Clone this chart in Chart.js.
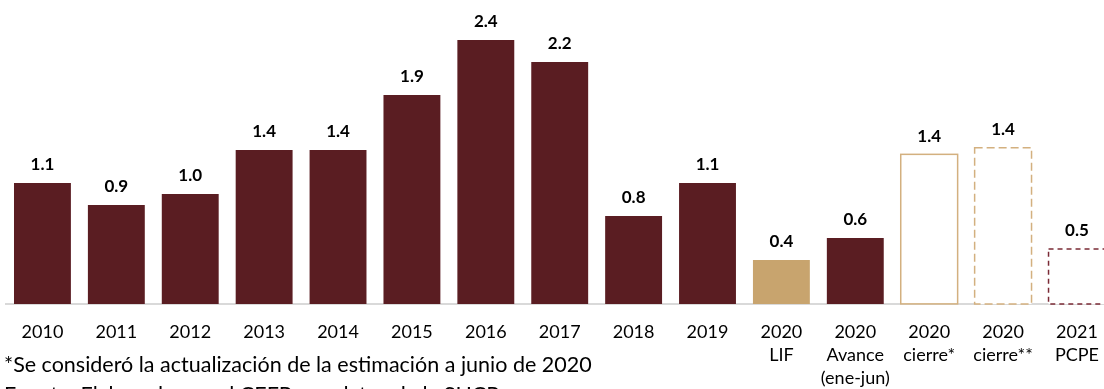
<!DOCTYPE html>
<html>
<head>
<meta charset="utf-8">
<script src="https://cdn.jsdelivr.net/npm/chart.js@4"></script>
<style>
  html, body { margin: 0; padding: 0; background: #fff; overflow: hidden; }
  body { width: 1104px; height: 389px; position: relative; }
  #wrap { position: absolute; left: 0; top: 0; width: 1116px; height: 417px; }
  .nota { position: absolute; left: 4px; font-family: Lato, sans-serif; font-size: 21.5px; line-height: 26px; color: #000; white-space: nowrap; }
</style>
</head>
<body>
<div id="wrap"><canvas id="myChart"></canvas></div>
<div class="nota" style="top:351px">*Se consideró la actualización de la estimación a junio de 2020</div>
<div class="nota" style="top:381px">Fuente: Elaborado por el CEFP con datos de la SHCP.</div>

<script>
const labels = [
    '2010', '2011', '2012', '2013', '2014', '2015', '2016', '2017', '2018', '2019',
    ['2020', 'LIF'],
    ['2020', 'Avance', '(ene-jun)'],
    ['2020', 'cierre*'],
    ['2020', 'cierre**'],
    ['2021', 'PCPE'],
];

const valores = [1.1, 0.9, 1.0, 1.4, 1.4, 1.9, 2.4, 2.2, 0.8, 1.1, 0.4, 0.6, 1.36, 1.42, 0.5];

// colores y contornos de cada barra
const guinda = '#5a1d22';
const arena = '#c8a46e';
const relleno = [guinda, guinda, guinda, guinda, guinda, guinda, guinda, guinda, guinda, guinda,
    arena, guinda, '#ffffff', '#ffffff', '#ffffff'];
const contornos = {
    12: { color: '#d3b07f', dash: [] },
    13: { color: '#d3b07f', dash: [8, 4] },
    14: { color: '#7a2a35', dash: [5, 4] },
};

// etiquetas de valor encima de las barras
const etiquetas = {
    id: 'etiquetas',
    afterDatasetsDraw(chart) {
        const ctx = chart.ctx;
        const meta = chart.getDatasetMeta(0);
        ctx.save();
        ctx.font = 'bold 17px Lato, sans-serif';
        ctx.fillStyle = '#000';
        ctx.textAlign = 'center';
        ctx.textBaseline = 'middle';
        meta.data.forEach(function(bar, i) {
            ctx.fillText(valores[i].toFixed(1), bar.x, bar.y - 18);
        });
        ctx.restore();
    }
};

// contornos (continuos o punteados) de las barras sin relleno
const bordes = {
    id: 'bordes',
    afterDatasetsDraw(chart) {
        const ctx = chart.ctx;
        const meta = chart.getDatasetMeta(0);
        ctx.save();
        ctx.lineWidth = 1.5;
        Object.keys(contornos).forEach(function(k) {
            const bar = meta.data[k];
            const c = contornos[k];
            ctx.strokeStyle = c.color;
            ctx.setLineDash(c.dash);
            ctx.strokeRect(bar.x - bar.width / 2, bar.y, bar.width, bar.base - bar.y);
        });
        ctx.restore();
    }
};

const config = {
    type: 'bar',
    data: {
        labels: labels,
        datasets: [{
            data: valores,
            backgroundColor: relleno,
            borderWidth: 0,
            barPercentage: 0.77,
            categoryPercentage: 1.0,
        }]
    },
    options: {
        responsive: true,
        maintainAspectRatio: false,
        animation: false,
        layout: { padding: { left: 5.5, right: 0, top: 7, bottom: 10 } },
        plugins: {
            legend: { display: false },
            tooltip: { enabled: false },
        },
        scales: {
            x: {
                grid: { display: false, drawTicks: false },
                border: { display: true, color: '#d9d9d9', width: 2 },
                ticks: {
                    color: '#000',
                    padding: 17,
                    maxRotation: 0,
                    autoSkip: false,
                    font: { family: 'Lato', size: 18, lineHeight: 1.28 },
                },
            },
            y: {
                display: false,
                min: 0,
                max: 2.7,
            }
        }
    },
    plugins: [bordes, etiquetas]
};

const myChart = new Chart(document.getElementById('myChart'), config);
</script>
</body>
</html>
